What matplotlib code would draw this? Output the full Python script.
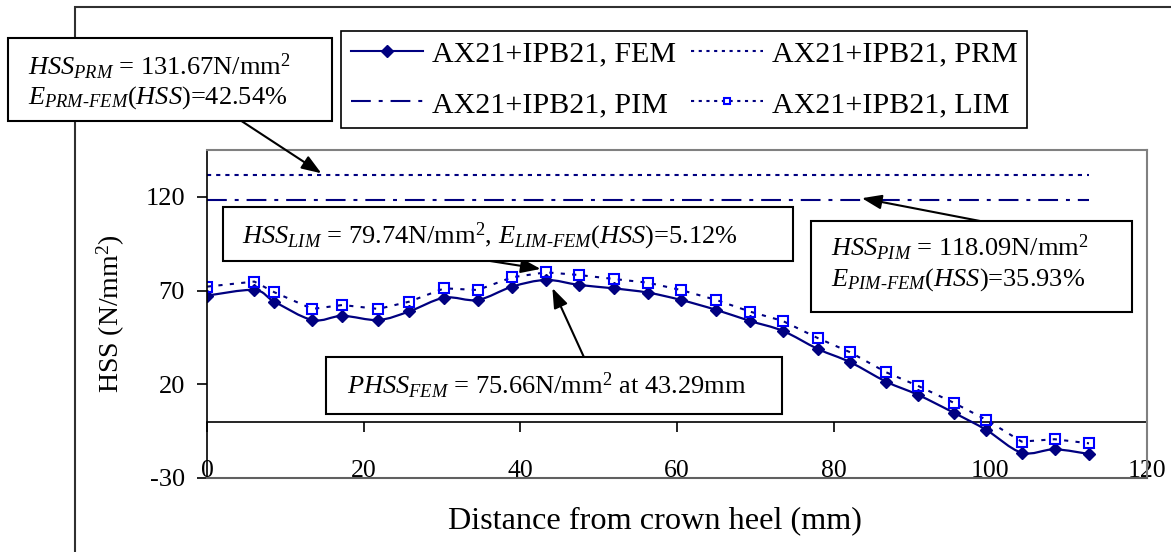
import numpy as np
import matplotlib
matplotlib.use("Agg")
import matplotlib.pyplot as plt
from matplotlib.path import Path
from matplotlib.patches import PathPatch, Rectangle
from matplotlib.lines import Line2D

plt.rcParams["font.family"] = ["Liberation Serif", "DejaVu Serif"]
plt.rcParams["mathtext.fontset"] = "custom"
plt.rcParams["mathtext.rm"] = "Liberation Serif"
plt.rcParams["mathtext.it"] = "Liberation Serif:italic"
plt.rcParams["mathtext.bf"] = "Liberation Serif:bold"
plt.rcParams["axes.unicode_minus"] = False

# distance from crown heel (mm) and hot spot stress (N/mm^2)
dist = [0.0, 6.04, 8.6, 13.45, 17.28, 21.87, 25.83, 30.3, 34.56, 38.96, 43.29,
        47.5, 51.9, 56.3, 60.5, 65.0, 69.3, 73.5, 78.0, 82.1, 86.7, 90.8,
        95.3, 99.5, 104.0, 108.2, 112.6]
hss_fem = [67.3, 70.3, 64.1, 54.3, 56.5, 54.3, 58.9, 66.2, 65.0, 72.1, 75.66,
           73.0, 71.2, 68.9, 65.0, 59.7, 53.8, 48.5, 38.8, 31.8, 21.4, 14.3,
           4.9, -4.4, -16.5, -14.7, -17.2]
hss_lim = [72.1, 74.8, 69.1, 60.2, 62.3, 60.2, 64.1, 71.2, 70.3, 77.1, 79.74,
           78.3, 76.2, 74.2, 70.3, 65.0, 58.8, 53.8, 44.6, 37.1, 26.4, 19.1,
           10.2, 1.0, -10.6, -9.3, -11.5]
hss_prm = 131.67
hss_pim = 118.09

x_ticks = [0, 20, 40, 60, 80, 100, 120]
y_ticks = [-30, 20, 70, 120]
xlim = (0, 120)
ylim = (-30, 145)
labels = ["AX21+IPB21, FEM", "AX21+IPB21, PIM", "AX21+IPB21, PRM", "AX21+IPB21, LIM"]

W, H = 1171, 552
navy = "#000080"
blue = "#0000FF"


def fx(px):
    return px / W


def fy(py):
    return 1 - py / H


def smooth_path(x, y):
    # excel style smoothed line, bezier through each point
    pts = np.column_stack([np.asarray(x, float), np.asarray(y, float)])
    n = len(pts)
    verts = [pts[0]]
    codes = [Path.MOVETO]
    for i in range(n - 1):
        p0 = pts[max(i - 1, 0)]
        p1 = pts[i]
        p2 = pts[i + 1]
        p3 = pts[min(i + 2, n - 1)]
        verts += [p1 + (p2 - p0) / 6, p2 - (p3 - p1) / 6, p2]
        codes += [Path.CURVE4] * 3
    return Path(verts, codes)


fig = plt.figure(figsize=(W / 100, H / 100), dpi=100)
ax = fig.add_axes([fx(207), fy(478), (1147 - 207) / W, (478 - 150) / H])
ax.set_xlim(*xlim)
ax.set_ylim(*ylim)

ends = [dist[0], dist[-1]]
ax.plot(ends, [hss_prm] * 2, color=navy, lw=1.5, dashes=(2, 2.4))
ax.plot(ends, [hss_pim] * 2, color=navy, lw=1.5, dashes=(9.5, 3.8, 1.9, 3.8))
ax.add_patch(PathPatch(smooth_path(dist, hss_fem), fill=False, edgecolor=navy, lw=1.6))
ax.plot(dist, hss_fem, ls="none", marker="D", ms=6, color=navy)
ax.plot(dist, hss_lim, color=navy, lw=1.5, dashes=(2, 3.5),
        marker="s", ms=7, mfc="none", mec=blue, mew=1.5)

# x axis crosses at y = 0
zero_frac = (0 - ylim[0]) / (ylim[1] - ylim[0])
sec = ax.secondary_xaxis(zero_frac)
sec.set_xticks(x_ticks)
sec.set_xticklabels([])
sec.tick_params(direction="out", length=7.2, width=1.2, color="black")
for s in sec.spines.values():
    s.set_color("black")
    s.set_linewidth(1.2)

ax.set_xticks(x_ticks)
ax.set_yticks(y_ticks)
ax.tick_params(axis="x", length=0, pad=-13, labelsize=18.5)
ax.tick_params(axis="y", direction="out", length=7.2, width=1.2, pad=8.6, labelsize=19)
ax.spines["left"].set_color("black")
ax.spines["left"].set_linewidth(1.2)
ax.spines["top"].set_color("#808080")
ax.spines["right"].set_color("#808080")
ax.spines["bottom"].set_color("#606060")
for k in ["top", "right", "bottom"]:
    ax.spines[k].set_linewidth(1.5)

ax.set_xlabel("Distance from crown heel (mm)", fontsize=23.2)
ax.xaxis.set_label_coords((655 - 207) / 940, (478 - 506) / 328)
ax.set_ylabel("HSS (N/mm$^2$)", fontsize=20)
ax.yaxis.set_label_coords((127 - 207) / 940, 0.5)

# legend (2 columns)
handles = [
    Line2D([], [], color=navy, lw=1.5, marker="D", ms=6),
    Line2D([], [], color=navy, lw=1.5, dashes=(9.5, 3.8, 1.9, 3.8)),
    Line2D([], [], color=navy, lw=1.5, dashes=(1.5, 2.2)),
    Line2D([], [], color=navy, lw=1.5, dashes=(1.5, 2.2), marker="s", ms=5,
           mfc="none", mec=blue, mew=1.5),
]
leg = fig.legend(handles, labels, ncol=2, loc="upper left",
                 bbox_to_anchor=(fx(340.6), fy(30.7)), bbox_transform=fig.transFigure,
                 borderaxespad=0, fontsize=21.6, handlelength=2.4, handletextpad=0.3,
                 columnspacing=0.5, borderpad=0.33, labelspacing=0.78,
                 fancybox=False, framealpha=1, numpoints=1)
leg.get_frame().set_edgecolor("black")
leg.get_frame().set_linewidth(1.2)

# outer chart border
fig.add_artist(Rectangle((fx(75), fy(700)), 2, (700 - 7) / H, transform=fig.transFigure,
                         fill=False, edgecolor="#303030", lw=1.5, zorder=0.5))

peak_i = int(np.argmax(hss_fem))
peak = hss_fem[peak_i]
e_prm = (hss_prm - peak) / hss_prm * 100
e_pim = (hss_pim - peak) / hss_pim * 100
e_lim = (max(hss_lim) - peak) / max(hss_lim) * 100


def box(x0, y0, x1, y1):
    fig.add_artist(Rectangle((fx(x0), fy(y1)), (x1 - x0) / W, (y1 - y0) / H,
                             transform=fig.transFigure, facecolor="white",
                             edgecolor="black", lw=1.5, zorder=2))


def label(x, y, s):
    fig.text(fx(x), fy(y), s, fontsize=19, ha="left", va="baseline", zorder=3)


def arrow(tip, start):
    ax.annotate("", xy=tip, xycoords="data", xytext=(fx(start[0]), fy(start[1])),
                textcoords="figure fraction", annotation_clip=False,
                arrowprops=dict(arrowstyle="-|>,head_length=0.6,head_width=0.22",
                                color="black", lw=1.5, mutation_scale=20,
                                shrinkA=0, shrinkB=0))


arrow((14.6, hss_prm + 0.9), (241, 120.7))
box(8.3, 38.3, 331.7, 120.7)
label(28.3, 75, r"$HSS_{PRM}$ = %.2fN/mm$^2$" % hss_prm)
label(28.3, 104, r"$E_{PRM\text{-}FEM}(HSS)$=%.2f%%" % e_prm)

arrow((83.6, hss_pim + 1.2), (980, 221))
box(811, 221, 1132, 312)
label(830.7, 256, r"$HSS_{PIM}$ = %.2fN/mm$^2$" % hss_pim)
label(830.7, 286, r"$E_{PIM\text{-}FEM}(HSS)$=%.2f%%" % e_pim)

arrow((dist[peak_i] - 0.7, max(hss_lim) + 1.8), (487, 260.5))
box(223, 207, 793, 260.5)
label(242, 243, r"$HSS_{LIM}$ = %.2fN/mm$^2$, $E_{LIM\text{-}FEM}(HSS)$=%.2f%%"
      % (max(hss_lim), e_lim))

arrow((dist[peak_i] + 0.8, peak - 4.3), (584, 357.3))
box(325.7, 357.3, 782.3, 414)
label(346.7, 394, r"$PHSS_{FEM}$ = %.2fN/mm$^2$ at %.2fmm" % (peak, dist[peak_i]))

fig.savefig("out.png", dpi=100)
